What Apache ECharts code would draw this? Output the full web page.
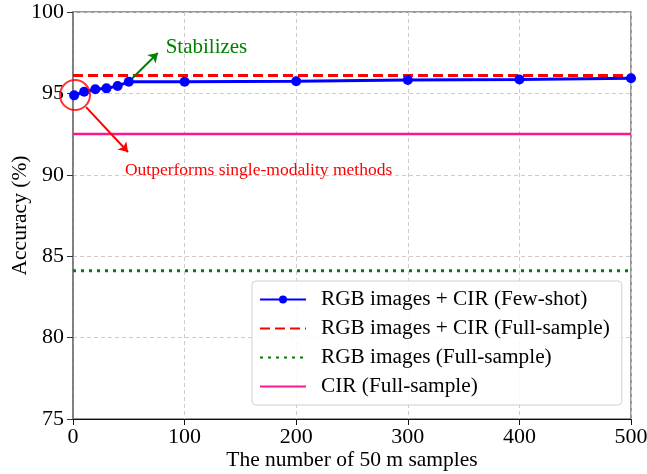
<!DOCTYPE html>
<html lang="en">
<head>
<meta charset="UTF-8" />
<title>Accuracy vs samples</title>
<script src="https://cdn.jsdelivr.net/npm/echarts@6/dist/echarts.min.js"></script>
<style>
  html, body { margin: 0; background: #fff; }
  #chart { width: 647px; height: 474px; }
</style>
</head>
<body>
<div id="chart"></div>
<script>
// data
const fewShotX = [1, 10, 20, 30, 40, 50, 100, 200, 300, 400, 500];
const fewShotY = [94.88, 95.1, 95.25, 95.31, 95.45, 95.72, 95.72, 95.75, 95.82, 95.85, 95.93];
const fusionFull = 96.1;
const rgbFull = 84.1;
const cirFull = 92.5;
const xSpan = [0, 500];
const names = [
  'RGB images + CIR (Few-shot)',
  'RGB images + CIR (Full-sample)',
  'RGB images (Full-sample)',
  'CIR (Full-sample)'
];
// annotations (data coords)
const circleAt = [1.8, 94.9];
const greenArrow = [[50, 95.72], [76, 97.48]];
const redArrow = [[11.7, 94.16], [49.3, 91.4]];
const stabText = { x: 83, y: 97.85, text: 'Stabilizes' };
const outText = { x: 46.5, y: 90.3, text: 'Outperforms single-modality methods' };

const FONT = '"Liberation Serif", "Times New Roman", serif';
const chart = echarts.init(document.getElementById('chart'));

function flat(v) { return xSpan.map(x => [x, v]); }

const option = {
  backgroundColor: '#fff',
  animation: false,
  grid: {
    left: 73, right: 16, top: 12, bottom: 55,
    outerBoundsMode: 'none', containLabel: false,
    show: true, borderColor: '#777', borderWidth: 1.5
  },
  xAxis: {
    type: 'value', min: 0, max: 500, interval: 100,
    name: 'The number of 50 m samples',
    nameLocation: 'middle', nameGap: 30, nameMoveOverlap: false,
    nameTextStyle: { fontFamily: FONT, fontSize: 21.5, color: '#000' },
    axisLine: { lineStyle: { color: '#111', width: 1.2 } },
    axisTick: { show: true, length: 6, lineStyle: { color: '#111' } },
    axisLabel: { fontFamily: FONT, fontSize: 22, color: '#000', margin: 7 },
    splitLine: { show: true, lineStyle: { color: '#ccc', type: [4, 3] } }
  },
  yAxis: {
    type: 'value', min: 75, max: 100, interval: 5,
    name: 'Accuracy (%)',
    nameLocation: 'middle', nameGap: 42, nameMoveOverlap: false,
    nameTextStyle: { fontFamily: FONT, fontSize: 21.5, color: '#000' },
    axisLine: { show: true, lineStyle: { color: '#777', width: 1.5 } },
    axisTick: { show: true, length: 6, lineStyle: { color: '#333' } },
    axisLabel: { fontFamily: FONT, fontSize: 22, color: '#000', margin: 9 },
    splitLine: { show: true, lineStyle: { color: '#ccc', type: [4, 3] } }
  },
  legend: {
    data: [
      { name: names[0] },
      { name: names[1], itemStyle: { opacity: 0 } },
      { name: names[2], itemStyle: { opacity: 0 } },
      { name: names[3], itemStyle: { opacity: 0 } }
    ],
    orient: 'vertical',
    left: 252, top: 281,
    padding: [8, 12, 8, 7],
    itemWidth: 46, itemHeight: 10, itemGap: 8,
    borderColor: '#d0d0d0', borderWidth: 1, borderRadius: 4,
    backgroundColor: 'rgba(255,255,255,0.85)',
    textStyle: { fontFamily: FONT, fontSize: 21.3, lineHeight: 21, color: '#000', padding: [0, 0, 0, 10] }
  },
  series: [
    {
      name: names[0], type: 'line', z: 5,
      data: fewShotX.map((x, i) => [x, fewShotY[i]]),
      symbol: 'circle', symbolSize: 10,
      itemStyle: { color: '#0000ff' },
      lineStyle: { color: '#0000ff', width: 3 }
    },
    {
      name: names[1], type: 'line', z: 4, symbol: 'none',
      data: flat(fusionFull),
      itemStyle: { color: '#ff0000' },
      lineStyle: { color: '#ff0000', width: 3, type: [10, 5] }
    },
    {
      name: names[2], type: 'line', z: 4, symbol: 'none',
      data: flat(rgbFull),
      itemStyle: { color: '#008000' },
      lineStyle: { color: '#008000', width: 3, type: [3, 5] }
    },
    {
      name: names[3], type: 'line', z: 4, symbol: 'none',
      data: flat(cirFull),
      itemStyle: { color: '#ff1493' },
      lineStyle: { color: '#ff1493', width: 2.5 }
    },
    {
      name: 'circle', type: 'scatter', z: 6,
      data: [circleAt],
      symbol: 'circle', symbolSize: 30,
      itemStyle: { color: 'rgba(0,0,0,0)', borderColor: '#ff0000', borderWidth: 2 },
      silent: true
    },
    {
      name: 'arrows', type: 'line', data: [], z: 6,
      markLine: {
        silent: true, symbol: ['none', 'arrow'], symbolSize: 9,
        label: { show: false },
        data: [
          [{ coord: greenArrow[0], lineStyle: { color: '#008000', width: 2, type: 'solid' } },
           { coord: greenArrow[1] }],
          [{ coord: redArrow[0], lineStyle: { color: '#ff0000', width: 2, type: 'solid' } },
           { coord: redArrow[1] }]
        ]
      }
    }
  ]
};
chart.setOption(option);

function textAt(t, color, size) {
  const p = chart.convertToPixel({ gridIndex: 0 }, [t.x, t.y]);
  return {
    type: 'text', x: p[0], y: p[1],
    style: { text: t.text, fill: color, font: size + 'px ' + FONT, textVerticalAlign: 'middle' }
  };
}
chart.setOption({
  graphic: [textAt(stabText, '#008000', 21), textAt(outText, '#ff0000', 17.5)]
});
</script>
</body>
</html>
